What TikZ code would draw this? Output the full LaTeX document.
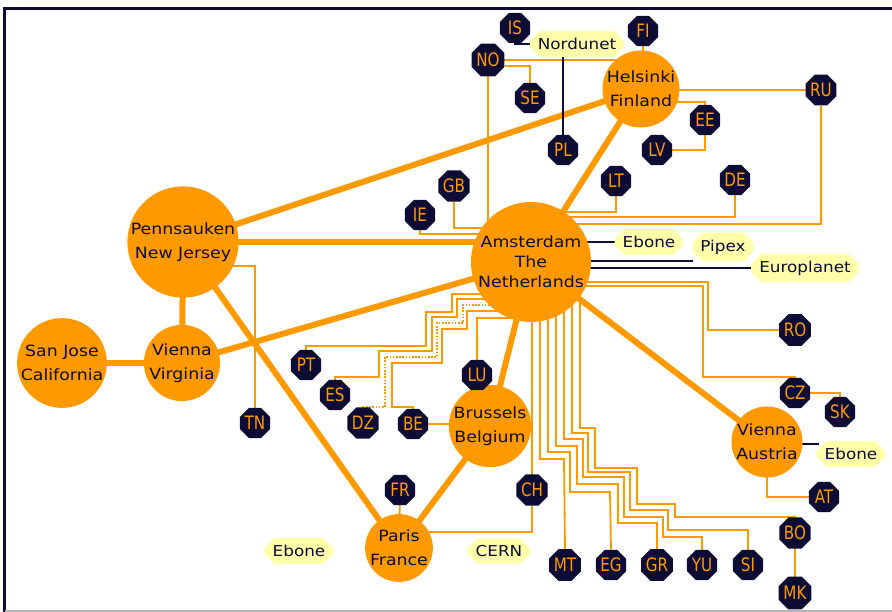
\documentclass[tikz,border=0pt]{standalone}
\usepackage{fontspec}
\setmainfont{DejaVu Sans}[FakeStretch=1.12]
\newfontfamily\octfont{DejaVu Sans}[FakeStretch=0.82]
\usetikzlibrary{shapes.geometric,shapes.misc,calc}
\definecolor{org}{RGB}{255,153,0}
\definecolor{nav}{RGB}{12,12,52}
\definecolor{lab}{RGB}{255,255,170}
\pgfdeclarelayer{bg}
\pgfsetlayers{bg,main}
\begin{document}
\begin{tikzpicture}[x=1pt,y=-1pt,
  hub/.style={circle,fill=org,inner sep=0,text=nav,align=center,font=\fontsize{15.5}{24}\selectfont},
  oct/.style={regular polygon,regular polygon sides=8,fill=nav,minimum size=32.5,inner sep=0,text=org,font=\octfont\fontsize{18.5}{18}\selectfont},
  tag/.style={chamfered rectangle,chamfered rectangle xsep=5pt,chamfered rectangle ysep=5pt,fill=lab,text=nav,minimum height=21,inner xsep=3pt,inner ysep=2pt,font=\fontsize{15}{15}\selectfont},
  bigline/.style={org,line width=6},
  thinline/.style={org,line width=1.8},
  navline/.style={nav,line width=1.6},
  dotline/.style={org,line width=1.8,dash pattern=on 1.6pt off 1.6pt}
]
\useasboundingbox (0,0) rectangle (892,612);
\draw[nav,line width=3] (892,8.5) -- (4.5,8.5) -- (4.5,612);
\draw[gray!60,line width=2] (4.5,610.5) -- (892,610.5);

% hubs
\node[hub,minimum size=120,font=\fontsize{15.5}{20}\selectfont] (Ams) at (531,262) {Amsterdam\\The\\Netherlands};
\node[hub,minimum size=64] (Hel) at (641,89) {Helsinki\\Finland};
\node[hub,minimum size=62] (Pen) at (183,242) {Pennsauken\\New Jersey};
\node[hub,minimum size=62] (VVa) at (182,363) {Vienna\\Virginia};
\node[hub,minimum size=63] (SJ) at (62,363) {San Jose\\California};
\node[hub,minimum size=63] (Bru) at (490,426) {Brussels\\Belgium};
\node[hub,minimum size=64] (Par) at (399,548) {Paris\\France};
\node[hub,minimum size=64] (VAu) at (767,442) {Vienna\\Austria};

% country octagons
\node[oct] (IS) at (515,28) {IS};
\node[oct] (FI) at (643,31) {FI};
\node[oct] (NO) at (488,60) {NO};
\node[oct] (SE) at (530,98) {SE};
\node[oct] (PL) at (563,150) {PL};
\node[oct] (LV) at (657,150) {LV};
\node[oct] (EE) at (705,120) {EE};
\node[oct] (RU) at (821,90) {RU};
\node[oct] (DE) at (735,180) {DE};
\node[oct] (LT) at (616,181) {LT};
\node[oct] (GB) at (454,186) {GB};
\node[oct] (IE) at (420,215) {IE};
\node[oct] (PT) at (306,365) {PT};
\node[oct] (ES) at (335,395) {ES};
\node[oct] (DZ) at (363,423) {DZ};
\node[oct] (BE) at (413,424) {BE};
\node[oct] (LU) at (477,375) {LU};
\node[oct] (TN) at (255,423) {TN};
\node[oct] (FR) at (400,490) {FR};
\node[oct] (CH) at (532,490) {CH};
\node[oct] (MT) at (565,565) {MT};
\node[oct] (EG) at (611,565) {EG};
\node[oct] (GR) at (657,565) {GR};
\node[oct] (YU) at (702,565) {YU};
\node[oct] (SI) at (748,565) {SI};
\node[oct] (RO) at (795,330) {RO};
\node[oct] (CZ) at (795,393) {CZ};
\node[oct] (SK) at (840,412) {SK};
\node[oct] (AT) at (824,497) {AT};
\node[oct] (BO) at (795,533) {BO};
\node[oct] (MK) at (795,593) {MK};

% network labels
\node[tag] (Nord) at (577,44) {Nordunet};
\node[tag] (EbA) at (649,242) {Ebone};
\node[tag] (Pip) at (723,247) {Pipex};
\node[tag] (Eur) at (805,268) {Europlanet};
\node[tag] (EbV) at (851,454) {Ebone};
\node[tag] (EbL) at (299,551) {Ebone};
\node[tag] (CERN) at (499,551) {CERN};

\coordinate (pipend) at (693,261);
\coordinate (ebvend) at (819,444);

\begin{pgfonlayer}{bg}
% backbone
\draw[bigline] (Pen.center) -- (Hel.center);
\draw[bigline] (Pen.center) -- (Pen.center -| Ams.center);
\draw[bigline] (Pen.center) -- (VVa.center);
\draw[bigline] (Pen.center) -- (Par.center);
\draw[bigline] (VVa.center) -- (SJ.center);
\draw[bigline] (VVa.center) -- (Ams.center);
\draw[bigline] (Ams.center) -- (Hel.center);
\draw[bigline] (Ams.center) -- (Bru.center);
\draw[bigline] (Ams.center) -- (VAu.center);
\draw[bigline] (Bru.center) -- (Par.center);

% thin links
\draw[thinline] (FI.center) -- (FI.center |- Hel.center);
\draw[thinline] (NO.center) -- (NO.center -| Hel.center);
\draw[thinline] ([yshift=-6pt]NO.east) -| (SE.north);
\draw[thinline] (NO.center) -- (NO.center |- Ams.center);
\draw[thinline] (RU.center) -- (RU.center -| Hel.center);
\draw[thinline] (EE.north) |- ($(Hel.center)+(0,13)$);
\draw[thinline] (LV.east) -| (EE.south);
\draw[thinline] (RU.south) |- ($(Ams.center)+(0,-38)$);
\draw[thinline] (DE.south) |- ($(Ams.center)+(0,-45)$);
\draw[thinline] (LT.south) |- ($(Ams.center)+(0,-50)$);
\draw[thinline] (GB.south) |- ($(Ams.center)+(0,-34)$);
\draw[thinline] (IE.south) |- ($(Ams.center)+(0,-28)$);
\draw[thinline] (TN.north) |- ($(Pen.center)+(0,24)$);
\draw[thinline] (BE.center) -- (BE.center -| Bru.center);
\draw[thinline] (FR.center) -- (Par.center);
\draw[thinline] (CH.south) |- ($(Par.center)+(0,-16)$);
\draw[thinline] (CH.center) -- (CH.center |- Ams.center);
\draw[thinline] (LU.north) |- ($(Ams.center)+(0,56)$);
\draw[thinline] (AT.west) -| (VAu.center);
\draw[thinline] (CZ.east) -| (SK.north);
\draw[thinline] (BO.center) -- (MK.center);
\draw[thinline] (CZ.north) -- (795,377) -- (703,377) -- (703,286) -- (Ams.center |- 0,286);
\draw[thinline] (RO.west) -- (708,330) -- (708,282) -- (Ams.center |- 0,282);
% west staircase
\draw[thinline] (PT.north) |- (426,346) -- (426,312) -- (452,312) -- (452,294) -- (Ams.center |- 0,294);
\draw[thinline] (ES.north) |- (379,377) -- (379,351) -- (432,351) -- (432,317) -- (457,317) -- (457,299) -- (Ams.center |- 0,299);
\draw[dotline] (DZ.north) |- (385,407) -- (385,357) -- (437,357) -- (437,323) -- (463,323) -- (463,305) -- (Ams.center |- 0,305);
\draw[thinline] (BE.north) |- (392,407) -- (392,363) -- (442,363) -- (442,329) -- (467,329) -- (467,311) -- (Ams.center |- 0,311);
% south staircase
\draw[thinline] (MT.north) -- (564,459) -- (540,459) -- (540,262) -- (Ams.center);
\draw[thinline] (EG.north) -- (610,492) -- (570,492) -- (570,452) -- (548,452) -- (548,262) -- (Ams.center);
\draw[thinline] (GR.north) -- (657,523) -- (618,523) -- (618,484) -- (577,484) -- (577,446) -- (556,446) -- (556,262) -- (Ams.center);
\draw[thinline] (YU.north) -- (702,537) -- (663,537) -- (663,517) -- (624,517) -- (624,477) -- (583,477) -- (583,439) -- (564,439) -- (564,262) -- (Ams.center);
\draw[thinline] (SI.north) -- (748,530) -- (668,530) -- (668,510) -- (630,510) -- (630,472) -- (588,472) -- (588,433) -- (572,433) -- (572,262) -- (Ams.center);
\draw[thinline] (BO.north) -- (795,517) -- (675,517) -- (675,504) -- (637,504) -- (637,468) -- (595,468) -- (595,428) -- (580,428) -- (580,262) -- (Ams.center);

% navy links
\draw[navline] (IS.south) |- (Nord.west);
\draw[navline] (PL.north) -- (PL.north |- Nord.south);
\draw[navline] (EbA.west) -- (EbA.west -| Ams.center);
\draw[navline] (pipend) -- (pipend -| Ams.center);
\draw[navline] (Eur.west) -- (Eur.west -| Ams.center);
\draw[navline] (ebvend) -- (ebvend -| VAu.center);
\end{pgfonlayer}
\end{tikzpicture}
\end{document}
